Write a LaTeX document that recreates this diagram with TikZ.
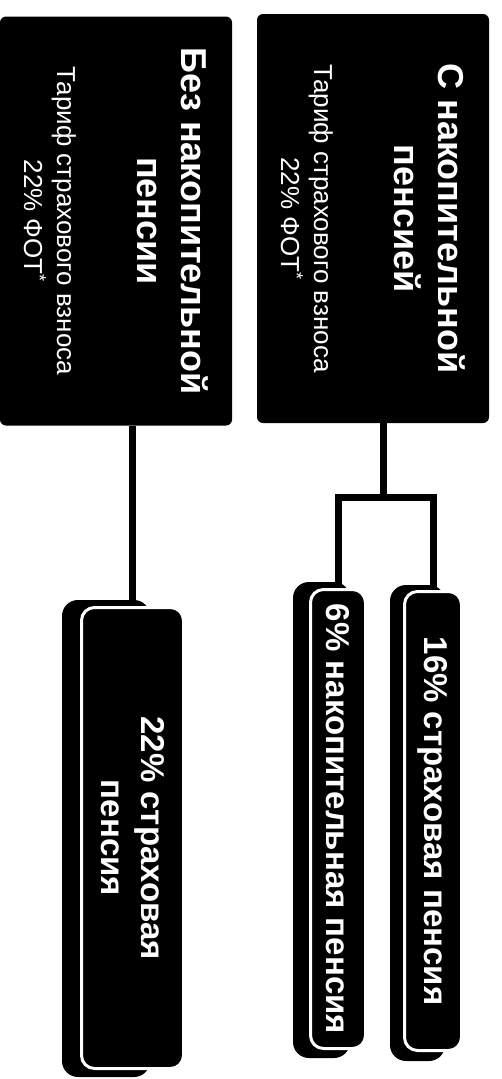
\documentclass[tikz,border=0pt]{standalone}
\usepackage{fontspec}
\setmainfont{Liberation Sans}

\newcommand\titlef{\bfseries\fontsize{36}{44}\selectfont}

\begin{document}
\begin{tikzpicture}[x=1pt,y=-1pt,
    tarifbox/.style={rotate=-90,fill=black,text=white,rounded corners=6pt,align=center,
      inner sep=0pt,minimum width=409pt,minimum height=232pt,font=\fontsize{26}{33}\selectfont},
    backbox/.style={rotate=-90,fill=black,rounded corners=16pt,inner sep=0pt},
    partbox/.style={rotate=-90,fill=black,draw=white,line width=3pt,rounded corners=13pt,
      text=white,align=center,inner sep=0pt,font=\bfseries\fontsize{33}{40}\selectfont},
    link/.style={line width=7pt}]

  \useasboundingbox (0,0) rectangle (502,1079);

  \node[tarifbox] (without) at (116,221)
    {\titlef Без накопительной\\[11pt]\titlef пенсии\\[47pt]Тариф страхового взноса\\22\% ФОТ\textsuperscript{*}};
  \node[tarifbox] (with) at (373,218.5)
    {\titlef С накопительной\\[11pt]\titlef пенсией\\[47pt]Тариф страхового взноса\\22\% ФОТ\textsuperscript{*}};

  \node[backbox,minimum width=477pt,minimum height=88pt] (ins22b) at (106,838.5) {};
  \node[backbox,minimum width=476pt,minimum height=57pt] (fund6b) at (321.5,820) {};
  \node[backbox,minimum width=476pt,minimum height=55pt] (ins16b) at (417.5,823) {};

  \node[partbox,minimum width=461pt,minimum height=102pt] (ins22) at (132.5,838) {22\% страховая\\пенсия};
  \node[partbox,minimum width=459pt,minimum height=55pt] (fund6) at (338,819) {6\% накопительная пенсия};
  \node[partbox,minimum width=459pt,minimum height=57pt] (ins16) at (433,821) {16\% страховая пенсия};

  \coordinate (fork) at (383.5,497);

  \draw[link] (ins22.west) -- (ins22.west |- without.east);
  \draw[link] (with.east -| fork) -- (fork);
  \draw[link] (fund6.west) |- (fork) -| (ins16.west);

\end{tikzpicture}
\end{document}
